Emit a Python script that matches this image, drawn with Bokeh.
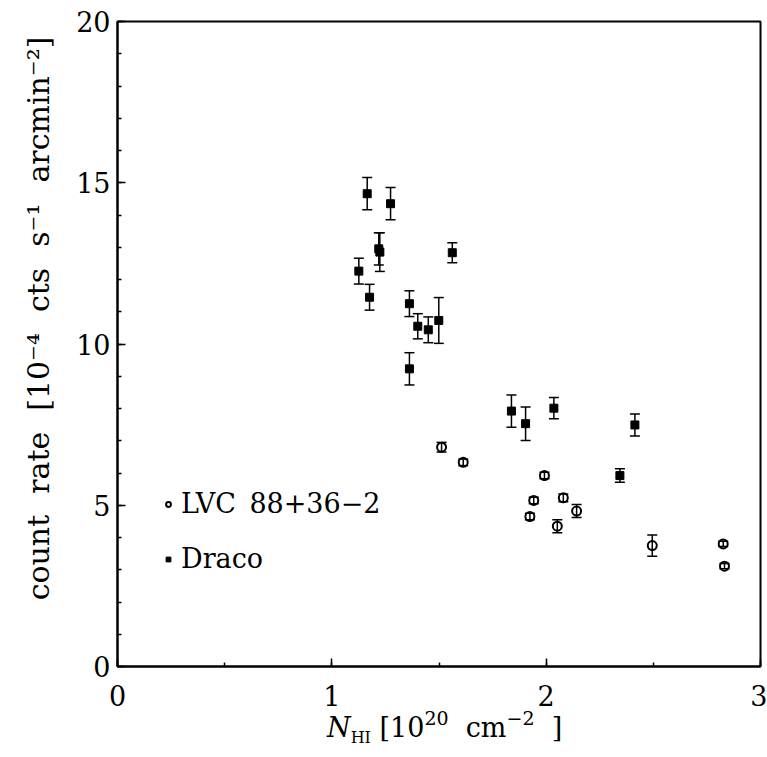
from bokeh.plotting import figure
from bokeh.models import (ColumnDataSource, Whisker, TeeHead, SingleIntervalTicker,
                          Legend, LegendItem, Range1d, Div)
from bokeh.layouts import column
from bokeh.embed import file_html
from bokeh.resources import INLINE

# ---- data ----
draco_nhi = [1.126, 1.165, 1.176, 1.219, 1.224, 1.274, 1.362, 1.362, 1.401, 1.450,
             1.499, 1.562, 1.838, 1.904, 2.036, 2.344, 2.414]
draco_rate = [12.26, 14.66, 11.45, 12.95, 12.85, 14.35, 11.25, 9.23, 10.55, 10.44,
              10.73, 12.83, 7.92, 7.53, 8.01, 5.92, 7.49]
draco_err = [0.40, 0.50, 0.40, 0.50, 0.60, 0.50, 0.40, 0.50, 0.39, 0.40,
             0.71, 0.31, 0.50, 0.52, 0.33, 0.21, 0.34]

lvc_nhi = [1.512, 1.613, 1.992, 1.942, 1.924, 2.080, 2.142, 2.052, 2.495, 2.826, 2.832]
lvc_rate = [6.80, 6.33, 5.92, 5.15, 4.65, 5.23, 4.82, 4.35, 3.75, 3.80, 3.11]
lvc_err = [0.15, 0.10, 0.10, 0.10, 0.10, 0.12, 0.20, 0.20, 0.33, 0.08, 0.08]

x_ticks = [0, 1, 2, 3]
y_ticks = [0, 5, 10, 15, 20]

FONT = "DejaVu Serif"
EM = "\u2003"
EN = "\u2002"
TH = "\u2009"

dsrc = ColumnDataSource(dict(x=draco_nhi, y=draco_rate,
                             lo=[a - b for a, b in zip(draco_rate, draco_err)],
                             hi=[a + b for a, b in zip(draco_rate, draco_err)]))
lsrc = ColumnDataSource(dict(x=lvc_nhi, y=lvc_rate,
                             lo=[a - b for a, b in zip(lvc_rate, lvc_err)],
                             hi=[a + b for a, b in zip(lvc_rate, lvc_err)]))

p = figure(width=767, height=716, output_backend="svg", toolbar_location=None,
           x_range=Range1d(0, 3), y_range=Range1d(0, 20),
           min_border_left=117, min_border_right=7, min_border_top=21, min_border_bottom=50)
p.grid.visible = False
p.outline_line_color = "black"
p.outline_line_width = 2
p.background_fill_color = "white"
p.border_fill_color = "white"

for ax in (p.xaxis[0], p.yaxis[0]):
    ax.axis_line_width = 2
    ax.axis_line_color = "black"
    ax.major_tick_in = 8
    ax.major_tick_out = 0
    ax.minor_tick_in = 4
    ax.minor_tick_out = 0
    ax.major_tick_line_width = 1.5
    ax.minor_tick_line_width = 1.5
    ax.major_label_text_font = FONT
    ax.major_label_text_font_size = "27px"
    ax.major_label_text_color = "black"

p.xaxis.ticker = SingleIntervalTicker(interval=1, num_minor_ticks=2)
p.yaxis.ticker = SingleIntervalTicker(interval=5, num_minor_ticks=5)
p.xaxis.major_label_standoff = 18
p.yaxis.major_label_standoff = 7

SP = EN + TH
p.yaxis.axis_label = (EM + EN + TH + "count" + SP + "rate" + SP + "[10\u207b\u2074" + SP + "cts" + SP
                      + "s\u207b\u00b9" + SP + "arcmin\u207b\u00b2]")
p.yaxis.axis_label_text_font = FONT
p.yaxis.axis_label_text_font_size = "30px"
p.yaxis.axis_label_text_font_style = "normal"
p.yaxis.axis_label_text_color = "black"
p.yaxis.axis_label_standoff = 17

# error bars
for src in (dsrc, lsrc):
    w = Whisker(base="x", lower="lo", upper="hi", source=src, line_width=1.5,
                line_color="black",
                upper_head=TeeHead(size=10, line_width=1.5, line_color="black"),
                lower_head=TeeHead(size=10, line_width=1.5, line_color="black"))
    p.add_layout(w)

r_lvc = p.scatter("x", "y", source=lsrc, marker="circle", size=9,
                  fill_color="white", fill_alpha=0.0, line_color="black", line_width=2)
r_dra = p.scatter("x", "y", source=dsrc, marker="square", size=8,
                  fill_color="black", line_color="black")

legend = Legend(items=[LegendItem(label="LVC" + EN + "88+36\u22122", renderers=[r_lvc]),
                       LegendItem(label="Draco", renderers=[r_dra])],
                location=(45, 92), orientation="vertical",
                border_line_color=None, background_fill_alpha=0,
                padding=0, margin=0, spacing=24, label_height=30, glyph_height=30,
                glyph_width=12, label_standoff=7,
                label_text_font=FONT, label_text_font_size="27px",
                label_text_color="black")
p.add_layout(legend, "center")

# x axis title: N with subscript HI, as real text under the plot
xlabel_html = (
    '<div style="position:relative;width:767px;height:41px;'
    "font-family:'DejaVu Serif';font-size:27px;color:black;\">"
    '<span style="position:absolute;left:327px;top:-11px;line-height:27px;white-space:nowrap;">'
    '<i>N</i><sub style="font-size:16px;vertical-align:-6px;">HI</sub>&nbsp;[10'
    '<sup style="font-size:19px;vertical-align:12px;">20</sup>&nbsp;&nbsp;cm'
    '<sup style="font-size:19px;vertical-align:12px;">\u22122</sup>&nbsp;&nbsp;]</span></div>'
)
xlabel = Div(text=xlabel_html, width=767, height=41, margin=0)

layout = column(p, xlabel, spacing=0)
open("out.html", "w").write(file_html(layout, INLINE))
